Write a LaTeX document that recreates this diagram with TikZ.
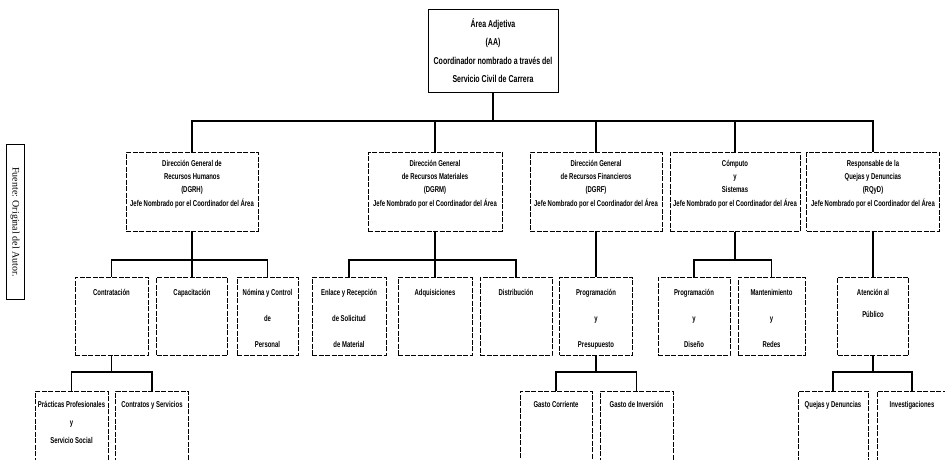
\documentclass[tikz,border=0pt]{standalone}
\usepackage{fontspec}
\setmainfont{Liberation Sans}[FakeStretch=0.7]
\newfontfamily\fuentefont{Liberation Serif}
\usepackage{tikz}
\tikzset{
  font={\fontsize{8.5pt}{10}\selectfont\bfseries}}
\tikzset{
  caja/.style={draw=black, line width=0.6pt, dash pattern=on 5pt off 1.5pt,
    inner xsep=0pt, inner ysep=0pt, anchor=north},
  conector/.style={draw=black, line width=1.3pt}}
% ancho, alto, espacio arriba, interlinea, texto
\newcommand{\txtcaja}[5]{\parbox[c][#2][t]{#1}{\centering\vspace*{#3}%
  \setlength{\baselineskip}{#4}\strut #5\par}}

\begin{document}
\begin{tikzpicture}[x=1pt,y=-1pt]
\useasboundingbox (0,0) rectangle (945,460);
\coordinate (bus1) at (0,121);
\coordinate (bus2) at (0,260);
\coordinate (bus3) at (0,372);
% nivel 1
\node [caja, solid, line width=0.9pt] (aa) at (493,9)
  {\fontsize{10pt}{11}\selectfont\txtcaja{130pt}{83pt}{9pt}{18.5pt}{\'Area Adjetiva\\(AA)\\Coordinador nombrado a trav\'es del\\Servicio Civil de Carrera}};
% nivel 2
\node [caja] (dgrh) at (192,152) {\txtcaja{132pt}{79pt}{7pt}{13.3pt}{Direcci\'on General de\\Recursos Humanos\\(DGRH)\\Jefe Nombrado por el Coordinador del \'Area}};
\node [caja] (dgrm) at (435,152) {\txtcaja{134pt}{79pt}{7pt}{13.3pt}{Direcci\'on General\\de Recursos Materiales\\(DGRM)\\Jefe Nombrado por el Coordinador del \'Area}};
\node [caja] (dgrf) at (596,152) {\txtcaja{132pt}{79pt}{7pt}{13.3pt}{Direcci\'on General\\de Recursos Financieros\\(DGRF)\\Jefe Nombrado por el Coordinador del \'Area}};
\node [caja] (cys) at (735,152) {\txtcaja{130pt}{79pt}{7pt}{13.3pt}{C\'omputo\\y\\Sistemas\\Jefe Nombrado por el Coordinador del \'Area}};
\node [caja] (rqyd) at (873,152) {\txtcaja{133pt}{79pt}{7pt}{13.3pt}{Responsable de la\\Quejas y Denuncias\\(RQyD)\\Jefe Nombrado por el Coordinador del \'Area}};
% nivel 3
\node [caja] (contr) at (111.5,277) {\txtcaja{73pt}{78pt}{11pt}{26pt}{Contrataci\'on}};
\node [caja] (capac) at (192,277) {\txtcaja{71pt}{78pt}{11pt}{26pt}{Capacitaci\'on}};
\node [caja] (nomina) at (267.5,277) {\txtcaja{61pt}{78pt}{11pt}{26pt}{N\'omina y Control\\de\\Personal}};
\node [caja] (enlace) at (349,277) {\txtcaja{74pt}{78pt}{11pt}{26pt}{Enlace y Recepci\'on\\de Solicitud\\de Material}};
\node [caja] (adq) at (435,277) {\txtcaja{74pt}{78pt}{11pt}{26pt}{Adquisiciones}};
\node [caja] (distr) at (516,277) {\txtcaja{72pt}{78pt}{11pt}{26pt}{Distribuci\'on}};
\node [caja] (progpre) at (596,277) {\txtcaja{73pt}{78pt}{11pt}{26pt}{Programaci\'on\\y\\Presupuesto}};
\node [caja] (progdis) at (694,277) {\txtcaja{72pt}{78pt}{11pt}{26pt}{Programaci\'on\\y\\Dise\~no}};
\node [caja] (mant) at (771.5,277) {\txtcaja{67pt}{78pt}{11pt}{26pt}{Mantenimiento\\y\\Redes}};
\node [caja] (atencion) at (873,277) {\txtcaja{71pt}{78pt}{11pt}{22pt}{Atenci\'on al\\P\'ublico}};
% nivel 4
\node [caja] (practicas) at (71.5,391) {\txtcaja{73pt}{80pt}{9pt}{18pt}{Pr\'acticas Profesionales\\y\\Servicio Social}};
\node [caja] (contratos) at (152,391) {\txtcaja{73pt}{80pt}{9pt}{18pt}{Contratos y Servicios}};
\node [caja] (gcorr) at (556,391) {\txtcaja{72pt}{80pt}{9pt}{18pt}{Gasto Corriente}};
\node [caja] (ginv) at (636.5,391) {\txtcaja{73pt}{80pt}{9pt}{18pt}{Gasto de Inversi\'on}};
\node [caja] (quejas) at (833,391) {\txtcaja{70pt}{80pt}{9pt}{18pt}{Quejas y Denuncias}};
\node [caja] (invest) at (912,391) {\txtcaja{70pt}{80pt}{9pt}{18pt}{Investigaciones}};
% nota al margen
\node [draw, line width=0.8pt, rotate=-90, minimum width=155pt, minimum height=18pt, inner sep=0pt] (fuente) at (15,222)
  {\fuentefont\mdseries\fontsize{10pt}{12}\selectfont Fuente: Original del Autor.};
% conectores
\draw [conector] (aa.south) -- (aa.south |- bus1);
\draw [conector] (dgrh.north) |- (rqyd.north |- bus1) -- (rqyd.north);
\foreach \n in {dgrm,dgrf,cys}
  \draw [conector] (\n.north) -- (\n.north |- bus1);
\draw [conector] (dgrh.south) -- (capac.north);
\draw [conector] (contr.north) |- (nomina.north |- bus2) -- (nomina.north);
\draw [conector] (dgrm.south) -- (adq.north);
\draw [conector] (enlace.north) |- (distr.north |- bus2) -- (distr.north);
\draw [conector] (dgrf.south) -- (progpre.north);
\draw [conector] (cys.south) -- (cys.south |- bus2);
\draw [conector] (progdis.north) |- (mant.north |- bus2) -- (mant.north);
\draw [conector] (rqyd.south) -- (atencion.north);
\draw [conector] (contr.south) -- (contr.south |- bus3);
\draw [conector] (practicas.north) |- (contratos.north |- bus3) -- (contratos.north);
\draw [conector] (progpre.south) -- (progpre.south |- bus3);
\draw [conector] (gcorr.north) |- (ginv.north |- bus3) -- (ginv.north);
\draw [conector] (atencion.south) -- (atencion.south |- bus3);
\draw [conector] (quejas.north) |- (invest.north |- bus3) -- (invest.north);
\end{tikzpicture}
\end{document}
